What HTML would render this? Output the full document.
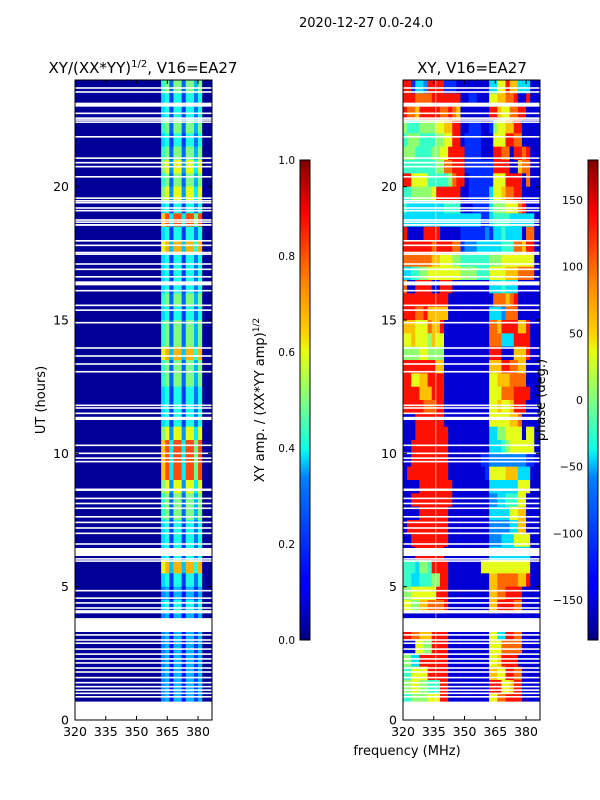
<!DOCTYPE html>
<html><head><meta charset="utf-8">
<style>
html,body{margin:0;padding:0;background:#fff;}
svg{display:block;font-family:"DejaVu Sans","Liberation Sans",sans-serif;}
</style></head>
<body>
<svg id="fig" width="600" height="800" viewBox="0 0 600 800" xmlns="http://www.w3.org/2000/svg">
<defs>
<linearGradient id="jet" x1="0" y1="1" x2="0" y2="0">
<stop offset="0" stop-color="#000080"/><stop offset="0.11" stop-color="#0000ff"/><stop offset="0.125" stop-color="#0000ff"/>
<stop offset="0.34" stop-color="#0080ff"/><stop offset="0.375" stop-color="#00d0ff"/><stop offset="0.4" stop-color="#10ffe6"/>
<stop offset="0.5" stop-color="#80ff80"/><stop offset="0.6" stop-color="#e6ff10"/><stop offset="0.64" stop-color="#ffd000"/>
<stop offset="0.75" stop-color="#ff8000"/><stop offset="0.89" stop-color="#ff0000"/><stop offset="1" stop-color="#800000"/>
</linearGradient>
<clipPath id="clipL"><rect x="75" y="80" width="137" height="640"/></clipPath>
<clipPath id="clipR"><rect x="403" y="80" width="137" height="640"/></clipPath>
</defs>
<text x="366" y="27" font-size="13" text-anchor="middle">2020-12-27 0.0-24.0</text>
<text x="143" y="73" font-size="15" text-anchor="middle">XY/(XX*YY)<tspan dy="-6" font-size="10">1/2</tspan><tspan dy="6">, V16=EA27</tspan></text>
<text x="472" y="73" font-size="15" text-anchor="middle">XY, V16=EA27</text>
<g id="left" clip-path="url(#clipL)"></g>
<g id="right" clip-path="url(#clipR)"></g>
<g id="axes"></g>
<rect x="300" y="160" width="10" height="480" fill="url(#jet)" stroke="#000" stroke-width="1"/>
<rect x="588" y="160" width="10" height="480" fill="url(#jet)" stroke="#000" stroke-width="1"/>
<text transform="translate(264,400) rotate(-90)" font-size="13" text-anchor="middle">XY amp. / (XX*YY amp)<tspan dy="-5" font-size="9">1/2</tspan></text>
<text transform="translate(545,400) rotate(-90)" font-size="13" text-anchor="middle">phase (deg.)</text>
<text transform="translate(45,400) rotate(-90)" font-size="13" text-anchor="middle">UT (hours)</text>
<text x="407" y="755" font-size="13" text-anchor="middle">frequency (MHz)</text>
</svg>
<script>
// ---- data ----
const xTicks = [320, 335, 350, 365, 380];
const yTicks = [0, 5, 10, 15, 20];
const ampTicks = [0.0, 0.2, 0.4, 0.6, 0.8, 1.0];
const phaseTicks = [-150, -100, -50, 0, 50, 100, 150];
const freqStart = 320, chanWidth = 2, nChan = 34;
// amplitude level of the bright band per half-hour row (row 0 = 23.5-24 h)
const bandLevel = [5,4,4,5,4,5,6,5,6,4,8,4,7,4,4,4,5,4,5,5,7,5,5,4,4,4,6,8,8,8,6,5,5,4,4,4,7,4,3,4,3,3,3,3,3,3,3,0];
// channel gain across the band (0 = background)
const chanGain = [0,0,0,0,0,0,0,0,0,0,0,0,0,0,0,0,0,0,0,0,0,0.85,1,0.45,1,1,0.45,1,1,0.6,1,0,0,0];
const ampBackground = 0.025;
// phase rows, digit d -> phase bin
const phaseRows = [
"991332999911100"+"000000"+"336697733"+"3000",
"999888899999990"+"011000"+"667788900"+"9000",
"988799999889870"+"000000"+"997668899"+"0000",
"544455556677990"+"011100"+"156677990"+"0000",
"455544445566990"+"111100"+"066699880"+"0000",
"555444455669999"+"111100"+"099880998"+"9000",
"444444445588999"+"111111"+"199990078"+"8000",
"996666444445899"+"011111"+"166699990"+"8000",
"445555569999990"+"011111"+"366788990"+"0000",
"433333333344440"+"001111"+"355566689"+"0000",
"333333333333333"+"333311"+"344443333"+"3300",
"900009999000001"+"111112"+"133433330"+"8800",
"999999989999881"+"222333"+"333444887"+"9900",
"888888877666554"+"444444"+"555666666"+"6600",
"334455666666665"+"555444"+"666677788"+"8800",
"800999900999000"+"000000"+"333433300"+"0000",
"999999999990000"+"000000"+"088878900"+"0000",
"999889777770000"+"000000"+"333288800"+"0000",
"777666877900000"+"000000"+"887999977"+"9000",
"667666576600000"+"000000"+"888333999"+"9000",
"555566555500000"+"000000"+"999000777"+"9000",
"999999997700000"+"000000"+"777998877"+"0000",
"996677999900000"+"000000"+"667778888"+"0000",
"999977799900000"+"000000"+"666888999"+"9000",
"999998889900000"+"000000"+"667667999"+"0000",
"000999999900000"+"000000"+"666667780"+"0000",
"000999999990000"+"000000"+"335566660"+"6600",
"009999999990000"+"000000"+"333456666"+"6600",
"009999999990000"+"000011"+"222222222"+"1100",
"099999999990000"+"000001"+"666677733"+"3000",
"000099999999000"+"000000"+"333333366"+"6000",
"009999999999000"+"000000"+"223344466"+"0000",
"000099999990000"+"000000"+"333336677"+"0000",
"099999999990000"+"000000"+"222223377"+"0000",
"009999999990000"+"000000"+"222333666"+"6000",
"000999999900000"+"000000"+"333333333"+"3000",
"444355499990000"+"000066"+"666666666"+"6000",
"443344455990000"+"000000"+"778888877"+"9000",
"556666669990000"+"000000"+"778899990"+"0000",
"665577888890000"+"000000"+"779999880"+"0000",
"000000000000000"+"000000"+"000000000"+"0000",
"998877799990000"+"000000"+"663399880"+"0000",
"000665599990000"+"000000"+"666888880"+"0000",
"553399999990000"+"000000"+"667999900"+"0000",
"446666999990000"+"000000"+"776699880"+"0000",
"556655444990000"+"000000"+"999667990"+"0000",
"445555666990000"+"000000"+"668899990"+"0000",
"000000000000000"+"000000"+"000000000"+"0000"
];
// flagged (blank) time intervals in hours
const flagStart = [23.67,23.52,23.0,22.72,22.54,22.47,22.39,21.84,21.04,20.87,20.72,20.34,19.54,19.44,19.37,19.17,19.07,18.72,18.64,18.53,17.94,17.77,17.5,17.44,17.07,16.87,16.59,16.3,16.07,15.52,15.34,14.87,13.92,13.62,13.32,13.03,11.77,11.67,11.47,11.25,10.27,9.97,9.79,9.66,8.59,8.28,8.09,7.91,7.59,7.38,7.17,6.97,6.57,6.15,6.01,5.93,4.82,4.54,4.36,4.17,4.0,3.3,3.16,2.97,2.85,2.63,2.44,2.26,2.11,1.92,1.77,1.56,1.37,1.22,1.09,0.97,0.84,0.0];
const flagEnd   = [23.73,23.58,23.15,22.78,22.6,22.53,22.45,21.9,21.1,20.93,20.78,20.4,19.6,19.5,19.43,19.23,19.13,18.78,18.7,18.6,18.0,17.83,17.56,17.5,17.13,16.93,16.65,16.45,16.13,15.58,15.4,14.93,13.98,13.68,13.38,13.09,11.83,11.73,11.53,11.37,10.33,10.03,9.85,9.72,8.68,8.34,8.15,7.97,7.65,7.44,7.23,7.03,6.63,6.45,6.07,5.99,4.88,4.6,4.42,4.23,4.12,3.82,3.22,3.03,2.91,2.69,2.5,2.32,2.17,1.98,1.83,1.62,1.43,1.28,1.15,1.03,0.9,0.69];
const rfiChannels = [336];

// ---- scales ----
const X0L=75, X0R=403, PW=137, PT=80, PB=720;
const fMin=320, fMax=386.8, tMin=0, tMax=24;
function xs(f, x0){ return x0 + (f-fMin)/(fMax-fMin)*PW; }
function ys(t){ return PB - (t-tMin)/(tMax-tMin)*(PB-PT); }
function ampScale(v){ return v; }
function phaseScale(p){ return (p+180)/360; }
function jet(x){
  x=Math.max(0,Math.min(1,x));
  const c=v=>Math.round(255*Math.max(0,Math.min(1,v)));
  return `rgb(${c(1.5-Math.abs(4*x-3))},${c(1.5-Math.abs(4*x-2))},${c(1.5-Math.abs(4*x-1))})`;
}
const NS="http://www.w3.org/2000/svg";
function mk(tag, attrs, parent){
  const e=document.createElementNS(NS,tag);
  for(const k in attrs) e.setAttribute(k,attrs[k]);
  parent.appendChild(e); return e;
}
const gL=document.getElementById('left'), gR=document.getElementById('right'), gA=document.getElementById('axes');
const nRows=bandLevel.length, rowH=24/nRows;

// amplitude cells
for(let r=0;r<nRows;r++){
  const t1=24-r*rowH, t0=t1-rowH;
  for(let c=0;c<nChan;c++){
    const f0=freqStart+c*chanWidth;
    const v=Math.max(ampBackground, bandLevel[r]/10*chanGain[c]);
    const x=xs(f0,X0L), w=xs(f0+chanWidth,X0L)-x;
    const el=mk('rect',{x:x.toFixed(2),y:ys(t1).toFixed(2),width:(w+0.4).toFixed(2),height:(ys(t0)-ys(t1)+0.4).toFixed(2),fill:jet(ampScale(v))},gL);
    
    
  }
}
// phase cells
for(let r=0;r<phaseRows.length;r++){
  const t1=24-r*rowH, t0=t1-rowH;
  for(let c=0;c<nChan;c++){
    const f0=freqStart+c*chanWidth;
    const d=+phaseRows[r][c];
    const ph=-150+d*31;
    const x=xs(f0,X0R), w=xs(f0+chanWidth,X0R)-x;
    const el=mk('rect',{x:x.toFixed(2),y:ys(t1).toFixed(2),width:(w+0.4).toFixed(2),height:(ys(t0)-ys(t1)+0.4).toFixed(2),fill:jet(phaseScale(ph))},gR);
    
    
  }
}
// rfi channel line on phase
rfiChannels.forEach(f=>{
  const el=mk('line',{x1:xs(f,X0R),x2:xs(f,X0R),y1:PT,y2:PB,stroke:'#ffffff','stroke-opacity':0.55,'stroke-width':1},gR);
  
  
});
// flagged intervals
[[gL,X0L],[gR,X0R]].forEach(([g,x0])=>{
  for(let i=0;i<flagStart.length;i++){
    const y1=ys(flagEnd[i]), y0=ys(flagStart[i]);
    const el=mk('rect',{x:x0,y:y1.toFixed(2),width:PW,height:Math.max(1,y0-y1).toFixed(2),fill:'#ffffff'},g);
    
    
  }
});
// axes frames & ticks
[X0L,X0R].forEach(x0=>{
  const fr=mk('rect',{x:x0,y:PT,width:PW,height:PB-PT,fill:'none',stroke:'#000','stroke-width':1},gA);
  
  
  xTicks.forEach(f=>{
    const x=xs(f,x0);
    mk('line',{x1:x,x2:x,y1:PB,y2:PB-4,stroke:'#000'},gA);
    mk('line',{x1:x,x2:x,y1:PT,y2:PT+4,stroke:'#000'},gA);
    const tx=mk('text',{x:x,y:PB+16,'font-size':12.5,'text-anchor':'middle'},gA);
    tx.textContent=f;
    
    
  });
  yTicks.forEach(t=>{
    const y=ys(t);
    mk('line',{x1:x0,x2:x0+4,y1:y,y2:y,stroke:'#000'},gA);
    mk('line',{x1:x0+PW,x2:x0+PW-4,y1:y,y2:y,stroke:'#000'},gA);
    const tx=mk('text',{x:x0-6,y:y+4.5,'font-size':12.5,'text-anchor':'end'},gA);
    tx.textContent=t;
    
    
  });
});
// colorbar ticks
ampTicks.forEach(v=>{
  const y=640-v*480;
  mk('line',{x1:300,x2:303,y1:y,y2:y,stroke:'#000'},gA);
  mk('line',{x1:310,x2:307,y1:y,y2:y,stroke:'#000'},gA);
  const tx=mk('text',{x:295,y:y+4,'font-size':10.5,'text-anchor':'end'},gA);
  tx.textContent=v.toFixed(1);
  
  
});
phaseTicks.forEach(v=>{
  const y=640-(v+180)/360*480;
  mk('line',{x1:588,x2:591,y1:y,y2:y,stroke:'#000'},gA);
  mk('line',{x1:598,x2:595,y1:y,y2:y,stroke:'#000'},gA);
  const tx=mk('text',{x:583,y:y+4,'font-size':11,'text-anchor':'end'},gA);
  tx.textContent=v<0?'\u2212'+Math.abs(v):String(v);
  
  
});
</script>
</body></html>
